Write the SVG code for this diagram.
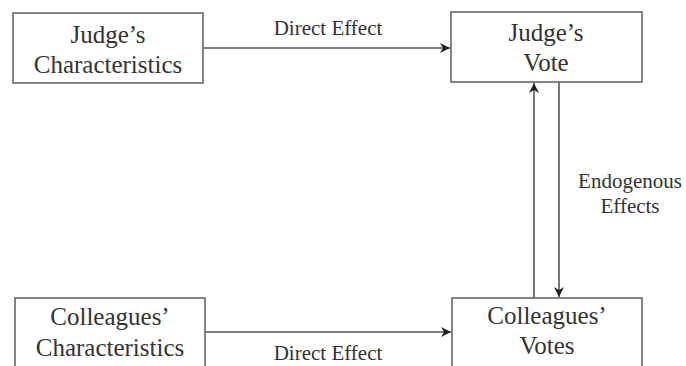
<svg xmlns="http://www.w3.org/2000/svg" width="686" height="366" viewBox="0 0 686 366">
<style>
.box{fill:#fff;stroke:#666;stroke-width:1.6}
.bt{font-family:"Liberation Serif",serif;font-size:25px;fill:#333;text-anchor:middle}
.lt{font-family:"Liberation Serif",serif;font-size:21px;fill:#333;text-anchor:middle}
.ln{stroke:#555;stroke-width:1.6;fill:none}
</style>
<defs>
<marker id="ah" viewBox="0 0 10 10" refX="10" refY="5" markerWidth="10" markerHeight="10" markerUnits="userSpaceOnUse" orient="auto">
<path d="M0,0 L10,5 L0,10 L3,5 Z" fill="#222"/>
</marker>
</defs>
<rect width="686" height="366" fill="#fff"/>
<g id="connectors">
<line class="ln" x1="203" y1="48" x2="450" y2="48" marker-end="url(#ah)"/>
<line class="ln" x1="205" y1="332" x2="451" y2="332" marker-end="url(#ah)"/>
<line class="ln" x1="534" y1="298" x2="534" y2="83" marker-end="url(#ah)"/>
<line class="ln" x1="559" y1="82" x2="559" y2="297" marker-end="url(#ah)"/>
<text class="lt" x="328" y="35">Direct Effect</text>
<text class="lt" x="328" y="360">Direct Effect</text>
<text class="lt" x="630" y="188">Endogenous</text>
<text class="lt" x="630" y="213">Effects</text>
</g>
<g id="judge-characteristics">
<rect class="box" x="13" y="13" width="190" height="70"/>
<text class="bt" x="108" y="43">Judge’s</text>
<text class="bt" x="108" y="73">Characteristics</text>
</g>
<g id="judge-vote">
<rect class="box" x="451" y="12" width="191" height="70"/>
<text class="bt" x="546" y="41">Judge’s</text>
<text class="bt" x="546" y="71">Vote</text>
</g>
<g id="colleagues-characteristics">
<rect class="box" x="15" y="298" width="190" height="80"/>
<text class="bt" x="110" y="325">Colleagues’</text>
<text class="bt" x="110" y="356">Characteristics</text>
</g>
<g id="colleagues-votes">
<rect class="box" x="452" y="298" width="190" height="80"/>
<text class="bt" x="547" y="324">Colleagues’</text>
<text class="bt" x="547" y="354">Votes</text>
</g>
</svg>
